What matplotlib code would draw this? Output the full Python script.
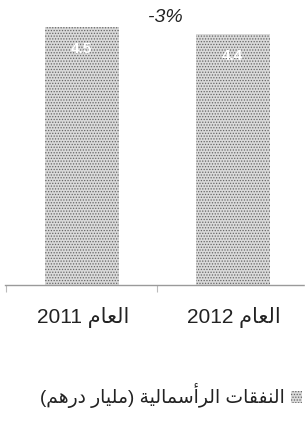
import re
import matplotlib
matplotlib.use("Agg")
import matplotlib.pyplot as plt

# ---- data ----
categories = ["العام 2011", "العام 2012"]
values = [4.5, 4.37]
series_label = "النفقات الرأسمالية (مليار درهم)"

# ---- minimal Arabic shaping (presentation forms) + visual reordering ----
FORMS = {
    "ا": ("\uFE8D", "\uFE8E"),
    "أ": ("\uFE83", "\uFE84"),
    "د": ("\uFEA9", "\uFEAA"),
    "ر": ("\uFEAD", "\uFEAE"),
    "ة": ("\uFE93", "\uFE94"),
    "ل": ("\uFEDD", "\uFEDE", "\uFEDF", "\uFEE0"),
    "ع": ("\uFEC9", "\uFECA", "\uFECB", "\uFECC"),
    "م": ("\uFEE1", "\uFEE2", "\uFEE3", "\uFEE4"),
    "ن": ("\uFEE5", "\uFEE6", "\uFEE7", "\uFEE8"),
    "ف": ("\uFED1", "\uFED2", "\uFED3", "\uFED4"),
    "ق": ("\uFED5", "\uFED6", "\uFED7", "\uFED8"),
    "ت": ("\uFE95", "\uFE96", "\uFE97", "\uFE98"),
    "س": ("\uFEB1", "\uFEB2", "\uFEB3", "\uFEB4"),
    "ي": ("\uFEF1", "\uFEF2", "\uFEF3", "\uFEF4"),
    "ه": ("\uFEE9", "\uFEEA", "\uFEEB", "\uFEEC"),
}


def shape(s):
    out = []
    for i, c in enumerate(s):
        if c not in FORMS:
            out.append(c)
            continue
        f = FORMS[c]
        prev = s[i - 1] if i > 0 else None
        nxt = s[i + 1] if i + 1 < len(s) else None
        jp = prev in FORMS and len(FORMS[prev]) == 4
        jn = len(f) == 4 and nxt in FORMS
        if jp and jn:
            out.append(f[3])
        elif jp:
            out.append(f[1])
        elif jn:
            out.append(f[2])
        else:
            out.append(f[0])
    return "".join(out)


def visual(s):
    tokens = re.findall(r"[0-9.%]+|[^0-9.%]", shape(s))
    mirror = {"(": ")", ")": "("}
    return "".join(mirror.get(t, t) for t in reversed(tokens))


plt.rcParams["font.family"] = ["Liberation Sans", "DejaVu Sans"]
plt.rcParams["hatch.linewidth"] = 0.6

W, H = 305, 421
fig = plt.figure(figsize=(W / 100, H / 100), dpi=100)

base_px = 285
ax = fig.add_axes([5 / W, (H - base_px) / H, 300 / W, base_px / H])

x = list(range(len(values)))
bars = ax.bar(x, values, width=0.49, color="#dadada", edgecolor="#666666",
              hatch="......", linewidth=0, label=visual(series_label))

ax.set_xlim(-0.507, 1.48)
ax.set_ylim(0, values[0] * base_px / 258)

for sp in ["top", "left", "right"]:
    ax.spines[sp].set_visible(False)
ax.spines["bottom"].set_color("#9a9a9a")
ax.spines["bottom"].set_linestyle((0, (3, 1)))
ax.spines["bottom"].set_linewidth(1)
ax.set_yticks([])
ax.set_xticks([-0.5, 0.5])
ax.set_xticklabels([])
ax.tick_params(axis="x", length=5, color="#bbbbbb", width=0.8)

for xi, v in zip(x, values):
    ax.text(xi, v - 0.38, f"{v:.1f}", ha="center", va="center",
            color="white", fontsize=11, fontweight="bold")

for xi, c in zip(x, categories):
    ax.text(xi + 0.01, -33 / base_px, visual(c), transform=ax.get_xaxis_transform(),
            ha="center", va="center", fontsize=15, color="#222222")

pct = round((values[1] / values[0] - 1) * 100)
ax.text(0.553, values[0] * base_px / 258 * (1 - 18 / base_px), f"{pct}%",
        ha="center", va="center", fontsize=14, style="italic", color="#222222")

fig.legend(handles=[bars], labels=[visual(series_label)], loc="center right",
           bbox_to_anchor=(304 / W, 1 - 396 / H), frameon=False, markerfirst=False,
           handlelength=0.6, handleheight=0.6, handletextpad=0.35,
           borderaxespad=0, borderpad=0.1,
           prop={"size": 13.5}, labelcolor="#222222")

fig.savefig("out.png", dpi=100)
